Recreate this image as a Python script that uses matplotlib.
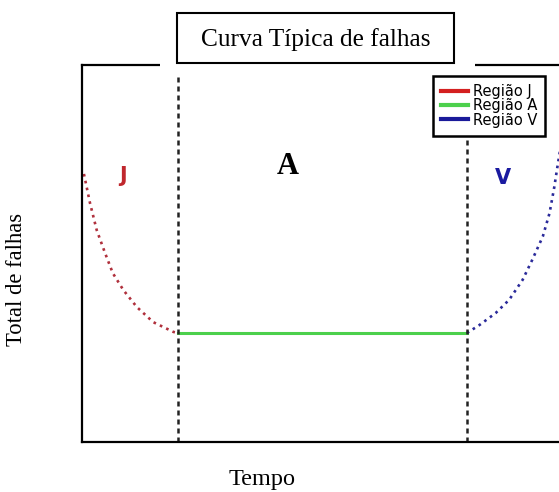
import matplotlib
matplotlib.use('Agg')
from matplotlib import pyplot as plt
from matplotlib.patches import Rectangle
from matplotlib.lines import Line2D

# data (x: time units, y: failures)
jTempo = [0.02, 0.083, 0.153, 0.24, 0.32, 0.43, 0.57, 0.74, 0.95, 1.0]
jFalhas = [7.11, 6.34, 5.62, 5.01, 4.48, 4.03, 3.58, 3.18, 2.92, 2.89]
aTempo = [1.0, 4.0]
aFalhas = [2.89, 2.89]
vTempo = [4.0, 4.13, 4.30, 4.44, 4.58, 4.68, 4.79, 4.86, 4.91, 4.94, 4.98]
vFalhas = [2.89, 3.10, 3.42, 3.77, 4.30, 4.83, 5.45, 6.07, 6.77, 7.27, 7.9]
limites = [1.0, 4.0]
regioes = ['Região J', 'Região A', 'Região V']

W, H = 559, 492
def fx(px):
    return px / W
def fy(py):
    return 1 - py / H

fig = plt.figure(figsize=(5.59, 4.92), dpi=100)
ax = fig.add_axes([fx(82), fy(442), (563 - 82) / W, (442 - 65) / H])
ax.set_xlim(0, 5)
ax.set_ylim(0, 10)
ax.set_xticks([])
ax.set_yticks([])
for s in ['left', 'bottom', 'top']:
    ax.spines[s].set_linewidth(1.6)
ax.spines['right'].set_visible(False)

ax.plot(jTempo, jFalhas, color='#b0303c', ls=':', lw=1.9)
ax.plot(aTempo, aFalhas, color='#4cd04c', ls='-', lw=2.2)
ax.plot(vTempo, vFalhas, color='#2a2a9a', ls=':', lw=1.9)
for xl in limites:
    ax.axvline(xl, color='#222222', ls=(0, (2, 1.6)), lw=1.8)

ax.text(0.43, 7.05, 'J', color='#c0272d', fontsize=15, fontweight='bold', ha='center', va='center')
ax.text(2.14, 7.3, 'A', color='black', fontsize=22, fontweight='bold', family='Liberation Serif', ha='center', va='center')
ax.text(4.38, 7.0, 'V', color='#1a1aa0', fontsize=15, fontweight='bold', ha='center', va='center')

# white gap around the title box, then the box itself
fig.patches.append(Rectangle((fx(160), fy(76)), (475 - 160) / W, 76 / H,
                             transform=fig.transFigure, facecolor='white', edgecolor='none', zorder=5))
fig.patches.append(Rectangle((fx(177), fy(63)), (454 - 177) / W, 50 / H,
                             transform=fig.transFigure, facecolor='white', edgecolor='black', lw=1.5, zorder=6))
fig.text(fx(315.5), fy(40), 'Curva Típica de falhas', family='Liberation Serif', fontsize=18.3,
         ha='center', va='center', zorder=7)

fig.text(fx(262), fy(479), 'Tempo', family='Liberation Serif', fontsize=17.5, ha='center', va='center')
fig.text(fx(17), fy(279), 'Total de falhas', family='Liberation Serif', fontsize=16.3, rotation=90,
         ha='center', va='center')

handles = [Line2D([], [], color=c, lw=3) for c in ['#d42020', '#4cd04c', '#1a1a9a']]
leg = fig.legend(handles, regioes, loc='upper right', bbox_to_anchor=(fx(545), fy(76)),
                 fontsize=10.5, labelspacing=-0.05, handlelength=1.9, handletextpad=0.3,
                 borderpad=0.55, borderaxespad=0, fancybox=False, framealpha=1)
leg.get_frame().set_edgecolor('black')
leg.get_frame().set_linewidth(1.8)
leg.set_zorder(8)

fig.savefig('out.png', dpi=100)
